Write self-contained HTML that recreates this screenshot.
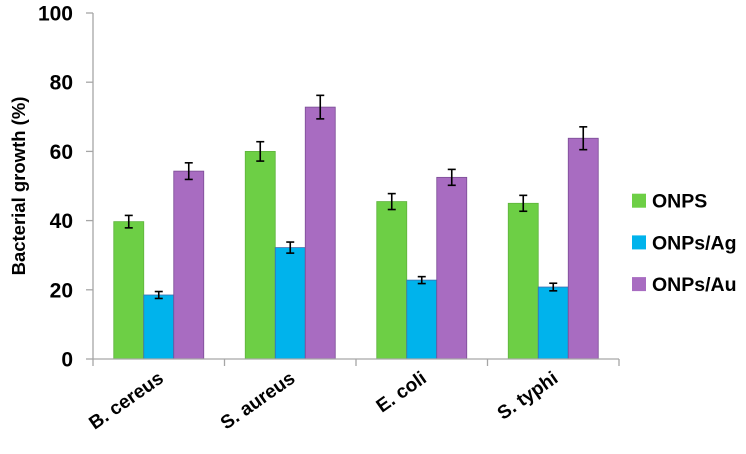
<!DOCTYPE html>
<html><head><meta charset="utf-8"><style>
body{margin:0;background:#fff;width:746px;height:449px;overflow:hidden}
text{font-family:"Liberation Sans",sans-serif;font-weight:bold;fill:#000}
</style></head><body>
<svg id="chart" width="746" height="449" xmlns="http://www.w3.org/2000/svg"></svg>
<script>
const categories=["B. cereus","S. aureus","E. coli","S. typhi"];
const seriesNames=["ONPS","ONPs/Ag","ONPs/Au"];
const onps=[39.7,60,45.5,45];
const onpsAg=[18.5,32.2,22.8,20.8];
const onpsAu=[54.3,72.8,52.5,63.8];
const errOnps=[1.8,2.8,2.3,2.3];
const errAg=[1,1.6,1,1.1];
const errAu=[2.4,3.4,2.3,3.3];
const yTicks=[0,20,40,60,80,100];
const colors=["#6dcf45","#00b3ec","#a86cc1"];
const strokes=["#5fb33c","#3d6fb0","#7a4c94"];

const svg=document.getElementById('chart');
const NS="http://www.w3.org/2000/svg";
const x0=93,x1=619,y0=359,y100=13;
const ys=v=>y0-(y0-y100)*v/100;
const cw=(x1-x0)/categories.length;
const bw=30;
function mk(tag,attrs,parent){const e=document.createElementNS(NS,tag);for(const k in attrs)e.setAttribute(k,attrs[k]);(parent||svg).appendChild(e);return e;}

const yAxis=mk('line',{x1:x0,y1:y100,x2:x0,y2:y0,stroke:'#a6a6a6','stroke-width':1.3});


yTicks.forEach(t=>{
  const l=mk('line',{x1:86,y1:ys(t),x2:x0,y2:ys(t),stroke:'#a6a6a6','stroke-width':1.3});
  
  
  const tx=mk('text',{x:73,y:ys(t)+7.5,'text-anchor':'end','font-size':21});
  tx.textContent=t;
  
  
});
const yt=mk('text',{transform:'translate(25,186) rotate(-90)','text-anchor':'middle','font-size':18.5});
yt.textContent='Bacterial growth (%)';



const series=[onps,onpsAg,onpsAu];
const errs=[errOnps,errAg,errAu];
categories.forEach((c,i)=>{
  const cx=x0+cw*(i+0.5);
  series.forEach((s,j)=>{
    const bx=cx-1.5*bw+j*bw;
    const r=mk('rect',{x:bx,y:ys(s[i]),width:bw,height:y0-ys(s[i]),fill:colors[j],stroke:strokes[j],'stroke-width':0.8});
    
    
    const ex=bx+bw/2,e=errs[j][i],top=ys(s[i]+e),bot=ys(s[i]-e);
    const g=mk('g',{stroke:'#000','stroke-width':1.6});
    
    
    mk('line',{x1:ex,y1:top,x2:ex,y2:bot},g);
    mk('line',{x1:ex-4,y1:top,x2:ex+4,y2:top},g);
    mk('line',{x1:ex-4,y1:bot,x2:ex+4,y2:bot},g);
  });
  const tx=mk('text',{transform:`translate(${cx+6},${y0+22}) rotate(-35)`,'text-anchor':'end','font-size':19});
  tx.textContent=c;
  
  
});
const xAxis=mk('line',{x1:x0,y1:y0,x2:x1,y2:y0,stroke:'#a6a6a6','stroke-width':1.3});


for(let i=0;i<=categories.length;i++){
  const l=mk('line',{x1:x0+cw*i,y1:y0,x2:x0+cw*i,y2:y0+7,stroke:'#a6a6a6','stroke-width':1.3});
  
  
}
seriesNames.forEach((n,j)=>{
  const y=200.7+j*41.7;
  const r=mk('rect',{x:632,y:y-7,width:14,height:14,fill:colors[j]});
  
  
  const t=mk('text',{x:652,y:y+7,'font-size':19.5});
  t.textContent=n;
  
  
});
</script>
</body></html>
